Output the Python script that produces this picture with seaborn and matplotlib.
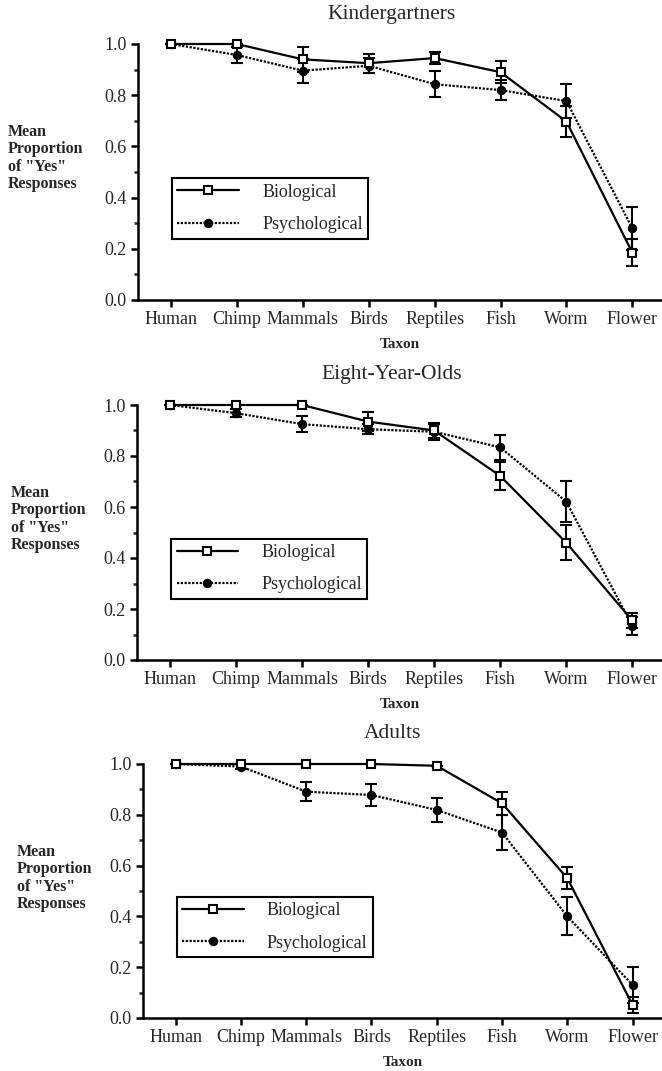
import numpy as np
import pandas as pd
import seaborn as sns
import matplotlib.pyplot as plt
from matplotlib.ticker import MultipleLocator

# Mean proportion of "yes" responses by taxon, three age groups
taxa = ["Human", "Chimp", "Mammals", "Birds", "Reptiles", "Fish", "Worm", "Flower"]

kinder_bio = [1.0, 1.0, 0.94, 0.925, 0.945, 0.89, 0.697, 0.185]
kinder_bio_err = [0, 0, 0.05, 0.037, 0.023, 0.042, 0.062, 0.052]
kinder_psy = [1.0, 0.957, 0.896, 0.915, 0.843, 0.82, 0.777, 0.28]
kinder_psy_err = [0, 0.033, 0.047, 0.03, 0.05, 0.04, 0.065, 0.085]

eight_bio = [1.0, 1.0, 1.0, 0.935, 0.90, 0.722, 0.46, 0.155]
eight_bio_err = [0, 0, 0, 0.037, 0.03, 0.055, 0.068, 0.03]
eight_psy = [1.0, 0.968, 0.925, 0.905, 0.895, 0.834, 0.621, 0.135]
eight_psy_err = [0, 0.015, 0.031, 0.02, 0.032, 0.05, 0.08, 0.035]

adult_bio = [1.0, 1.0, 1.0, 1.0, 0.993, 0.845, 0.55, 0.051]
adult_bio_err = [0, 0, 0, 0, 0, 0.044, 0.043, 0.03]
adult_psy = [1.0, 0.99, 0.891, 0.878, 0.819, 0.73, 0.40, 0.13]
adult_psy_err = [0, 0.01, 0.037, 0.043, 0.047, 0.068, 0.075, 0.07]

panels = [
    ("Kindergartners", kinder_bio, kinder_bio_err, kinder_psy, kinder_psy_err),
    ("Eight-Year-Olds", eight_bio, eight_bio_err, eight_psy, eight_psy_err),
    ("Adults", adult_bio, adult_bio_err, adult_psy, adult_psy_err),
]

sns.set_style("ticks")
plt.rcParams["font.family"] = ["Liberation Serif", "DejaVu Serif"]

W, H = 662, 1071
fig = plt.figure(figsize=(W / 100, H / 100), dpi=100)

# axes placement in pixels: (left, y of 0.0, y of 1.0), plus y-label x, title y
boxes = [(138, 300, 44, 8, 14), (137, 660, 405, 11, 374), (143, 1018, 764, 17, 734)]

pos = np.arange(len(taxa))

for (title, bio, bio_err, psy, psy_err), (left, y0, y1, lab_x, ty) in zip(panels, boxes):
    ax = fig.add_axes([left / W, 1 - y0 / H, (W - left) / W, (y0 - y1) / H])
    df = pd.DataFrame({"pos": pos, "bio": bio, "psy": psy})

    sns.lineplot(data=df, x="pos", y="bio", ax=ax, color="black", lw=1.6,
                 marker="s", markersize=5.5, markerfacecolor="white",
                 markeredgecolor="black", markeredgewidth=1.5,
                 label="Biological", errorbar=None, clip_on=False, zorder=4)
    sns.lineplot(data=df, x="pos", y="psy", ax=ax, color="black", lw=1.6,
                 linestyle=(0, (1, 0.7)), marker="o", markersize=6,
                 markerfacecolor="black", markeredgecolor="black",
                 label="Psychological", errorbar=None, clip_on=False, zorder=3)

    ax.errorbar(pos, bio, yerr=bio_err, fmt="none", ecolor="black",
                elinewidth=1.5, capsize=4, capthick=1.5, clip_on=False, zorder=2)
    ax.errorbar(pos, psy, yerr=psy_err, fmt="none", ecolor="black",
                elinewidth=1.5, capsize=4, capthick=1.5, clip_on=False, zorder=2)

    ax.set_xlim(-0.5, 7.45)
    ax.set_ylim(0, 1.0)
    ax.set_xticks(pos)
    ax.set_xticklabels(taxa, fontsize=13)
    ax.yaxis.set_major_locator(MultipleLocator(0.2))
    ax.yaxis.set_minor_locator(MultipleLocator(0.1))
    ax.set_yticklabels([f"{v:.1f}" for v in ax.get_yticks()], fontsize=13)
    ax.tick_params(axis="both", which="major", direction="out", length=5,
                   width=1.8, color="black", pad=3)
    ax.tick_params(axis="y", which="minor", direction="out", length=3, width=1.8)
    ax.tick_params(axis="x", which="minor", bottom=False)
    for side in ["top", "right"]:
        ax.spines[side].set_visible(False)
    for side in ["left", "bottom"]:
        ax.spines[side].set_linewidth(1.8)
        ax.spines[side].set_color("black")
    ax.set_xlabel("Taxon", fontsize=11, fontweight="bold", labelpad=7)
    ax.set_ylabel("")
    ax.patch.set_alpha(0)

    leg = ax.legend(loc="lower left", bbox_to_anchor=(0.065, 0.24), borderaxespad=0,
                    fontsize=13, frameon=True, fancybox=False, edgecolor="black",
                    framealpha=1, handlelength=3.4, handletextpad=1.3,
                    labelspacing=0.85, borderpad=0.3, numpoints=1)
    leg.get_frame().set_linewidth(1.5)

    fig.text(392 / W, 1 - ty / H, title, ha="center", va="center", fontsize=15.5)
    fig.text(lab_x / W, 1 - (y1 + 114) / H, 'Mean\nProportion\nof "Yes"\nResponses',
             ha="left", va="center", fontsize=11.5, fontweight="bold", linespacing=1.12)

fig.savefig("out.png", dpi=100)
